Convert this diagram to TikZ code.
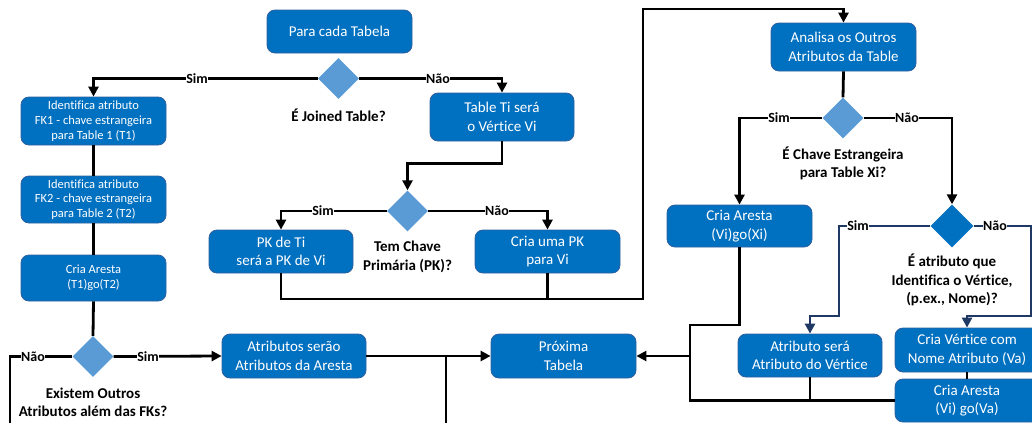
\documentclass[tikz,border=0pt]{standalone}
\usepackage{fontspec}
\setmainfont[Ligatures=NoCommon]{Carlito}
\usetikzlibrary{arrows.meta,shapes.geometric}

\definecolor{boxblue}{HTML}{0070C0}
\definecolor{boxedge}{HTML}{2E5F9E}
\definecolor{diamondblue}{HTML}{5B9BD5}
\definecolor{navyline}{HTML}{1F3864}

\tikzset{
  flowbox/.style={draw=boxedge, line width=0.8pt, fill=boxblue, rounded corners=8pt,
    text=white, align=center, inner sep=0pt, font=\fontsize{15}{18.5}\selectfont},
  smallbox/.style={flowbox, font=\fontsize{12.5}{14.8}\selectfont},
  decision/.style={diamond, fill=diamondblue, inner sep=0pt,
    minimum width=41pt, minimum height=41pt},
  question/.style={align=center, inner sep=0pt, font=\bfseries\fontsize{15}{18.3}\selectfont},
  flow/.style={line width=2.8pt, draw=black},
  flowarrow/.style={flow, -{Triangle[length=10pt,width=10pt]}},
  navyarrow/.style={line width=2.8pt, draw=navyline, -{Triangle[length=10pt,width=10pt]}},
  answer/.style={fill=white, inner sep=0.6pt, font=\bfseries\fontsize{14}{14}\selectfont},
}

\begin{document}
\begin{tikzpicture}[x=1pt,y=-1pt]
\useasboundingbox (0,0) rectangle (1032,423);
\clip (0,0) rectangle (1032,423);

% ---- process boxes ----
\node[flowbox, minimum width=145pt, minimum height=43pt] (para) at (339.5,31.5) {Para cada Tabela};
\node[smallbox, minimum width=145pt, minimum height=48pt] (fk1) at (93.5,121) {Identifica atributo\\FK1 - chave estrangeira\\para Table 1 (T1)};
\node[smallbox, minimum width=145pt, minimum height=47pt] (fk2) at (93.5,199.5) {Identifica atributo\\FK2 - chave estrangeira\\para Table 2 (T2)};
\node[smallbox, minimum width=145pt, minimum height=46pt] (criat) at (93.5,278) {Cria Aresta\\(T1)go(T2)};
\node[flowbox, minimum width=144pt, minimum height=44pt] (atraresta) at (294,356) {Atributos serão\\Atributos da Aresta};
\node[flowbox, minimum width=145pt, minimum height=44pt] (proxima) at (563.5,356) {Próxima\\Tabela};
\node[flowbox, minimum width=144pt, minimum height=48pt] (tableti) at (502,117) {Table Ti será\\o Vértice Vi};
\node[flowbox, minimum width=144pt, minimum height=43pt] (pkti) at (281,251.5) {PK de Ti\\será a PK de Vi};
\node[flowbox, minimum width=145pt, minimum height=43pt] (criapk) at (547.5,251.5) {Cria uma PK\\para Vi};
\node[flowbox, minimum width=145pt, minimum height=48pt] (analisa) at (843.5,47) {Analisa os Outros\\Atributos da Table};
\node[flowbox, minimum width=145pt, minimum height=42pt] (criaxi) at (739.5,226) {Cria Aresta\\(Vi)go(Xi)};
\node[flowbox, minimum width=144pt, minimum height=43pt] (atrvert) at (810,355.5) {Atributo será\\Atributo do Vértice};
\node[flowbox, minimum width=144pt, minimum height=44pt] (criava) at (967,350) {Cria Vértice com\\Nome Atributo (Va)};
\node[flowbox, minimum width=144pt, minimum height=43pt] (criaava) at (967,400.5) {Cria Aresta\\(Vi) go(Va)};

% ---- decisions ----
\node[decision] (d1) at (338.5,78.5) {};
\node[decision] (d2) at (93,356.5) {};
\node[decision] (d3) at (407.5,211) {};
\node[decision] (d4) at (843,118) {};
\node[decision, fill=boxblue, minimum width=43pt, minimum height=43pt] (d5) at (952,226) {};

\node[question] (q1) at (338.5,115) {É Joined Table?};
\node[question] (q2) at (93,402.5) {Existem Outros\\Atributos além das FKs?};
\node[question] (q3) at (407.5,257) {Tem Chave\\Primária (PK)?};
\node[question] (q4) at (843,163.5) {É Chave Estrangeira\\para Table Xi?};
\node[question] (q5) at (952,280) {É atributo que\\Identifica o Vértice,\\(p.ex., Nome)?};

% ---- free ends and bends ----
\coordinate (naoend) at (10,423);
\coordinate (downend) at (446,423);
\coordinate (bendlow) at (643,299);
\coordinate (bendhigh) at (643,9);
\coordinate (simbend) at (839,316);
\coordinate (naobend) at (1031,316);
\coordinate (merge) at (690,325);

% ---- left column ----
\draw[flowarrow] (d1.west) -| (fk1.north);
\draw[flowarrow] (d1.east) -| (tableti.north);
\draw[flow] (fk1.south) -- (fk2.north);
\draw[flow] (fk2.south) -- (criat.north);
\draw[flow] (criat.south) -- (d2.north);
\draw[flow] (d2.west) -| (naoend);
\draw[flowarrow] (d2.east) -- (atraresta.west);
\draw[flowarrow] (atraresta.east) -- (proxima.west);
\draw[flow] (downend) -- (downend |- atraresta.east);

% ---- primary key branch ----
\draw[flowarrow] (tableti.south) -- ++(0,22) -| (d3.north);
\draw[flowarrow] (d3.west) -| (pkti.north);
\draw[flowarrow] (d3.east) -| (criapk.north);
\draw[flowarrow] (pkti.south) |- (bendlow) -- (bendhigh) -| (analisa.north);
\draw[flow] (criapk.south) -- (criapk.south |- bendlow);

% ---- attribute analysis ----
\draw[flow] (analisa.south) -- (d4.north);
\draw[flowarrow] (d4.west) -| (criaxi.north);
\draw[flowarrow] (d4.east) -| (d5.north);
\draw[navyarrow] (d5.west) -| (simbend) -| (atrvert.north);
\draw[navyarrow] (d5.east) -| (naobend) -| (criava.north);
\draw[flow] (criava.south) -- (criaava.north);
\draw[flow] (criaxi.south) |- (merge) |- (criaava.west);
\draw[flow] (atrvert.south) -- (atrvert.south |- criaava.west);
\draw[flowarrow] (merge |- proxima.east) -- (proxima.east);

% ---- branch labels ----
\node[answer] (s1) at (197,79) {Sim};
\node[answer] (n1) at (438,79) {Não};
\node[answer] (n2) at (33,357) {Não};
\node[answer] (s2) at (148,357) {Sim};
\node[answer] (s3) at (323,211) {Sim};
\node[answer] (n3) at (497,211) {Não};
\node[answer] (s4) at (779,118) {Sim};
\node[answer] (n4) at (907,118) {Não};
\node[answer] (s5) at (858,226) {Sim};
\node[answer] (n5) at (995,226) {Não};
\end{tikzpicture}
\end{document}
